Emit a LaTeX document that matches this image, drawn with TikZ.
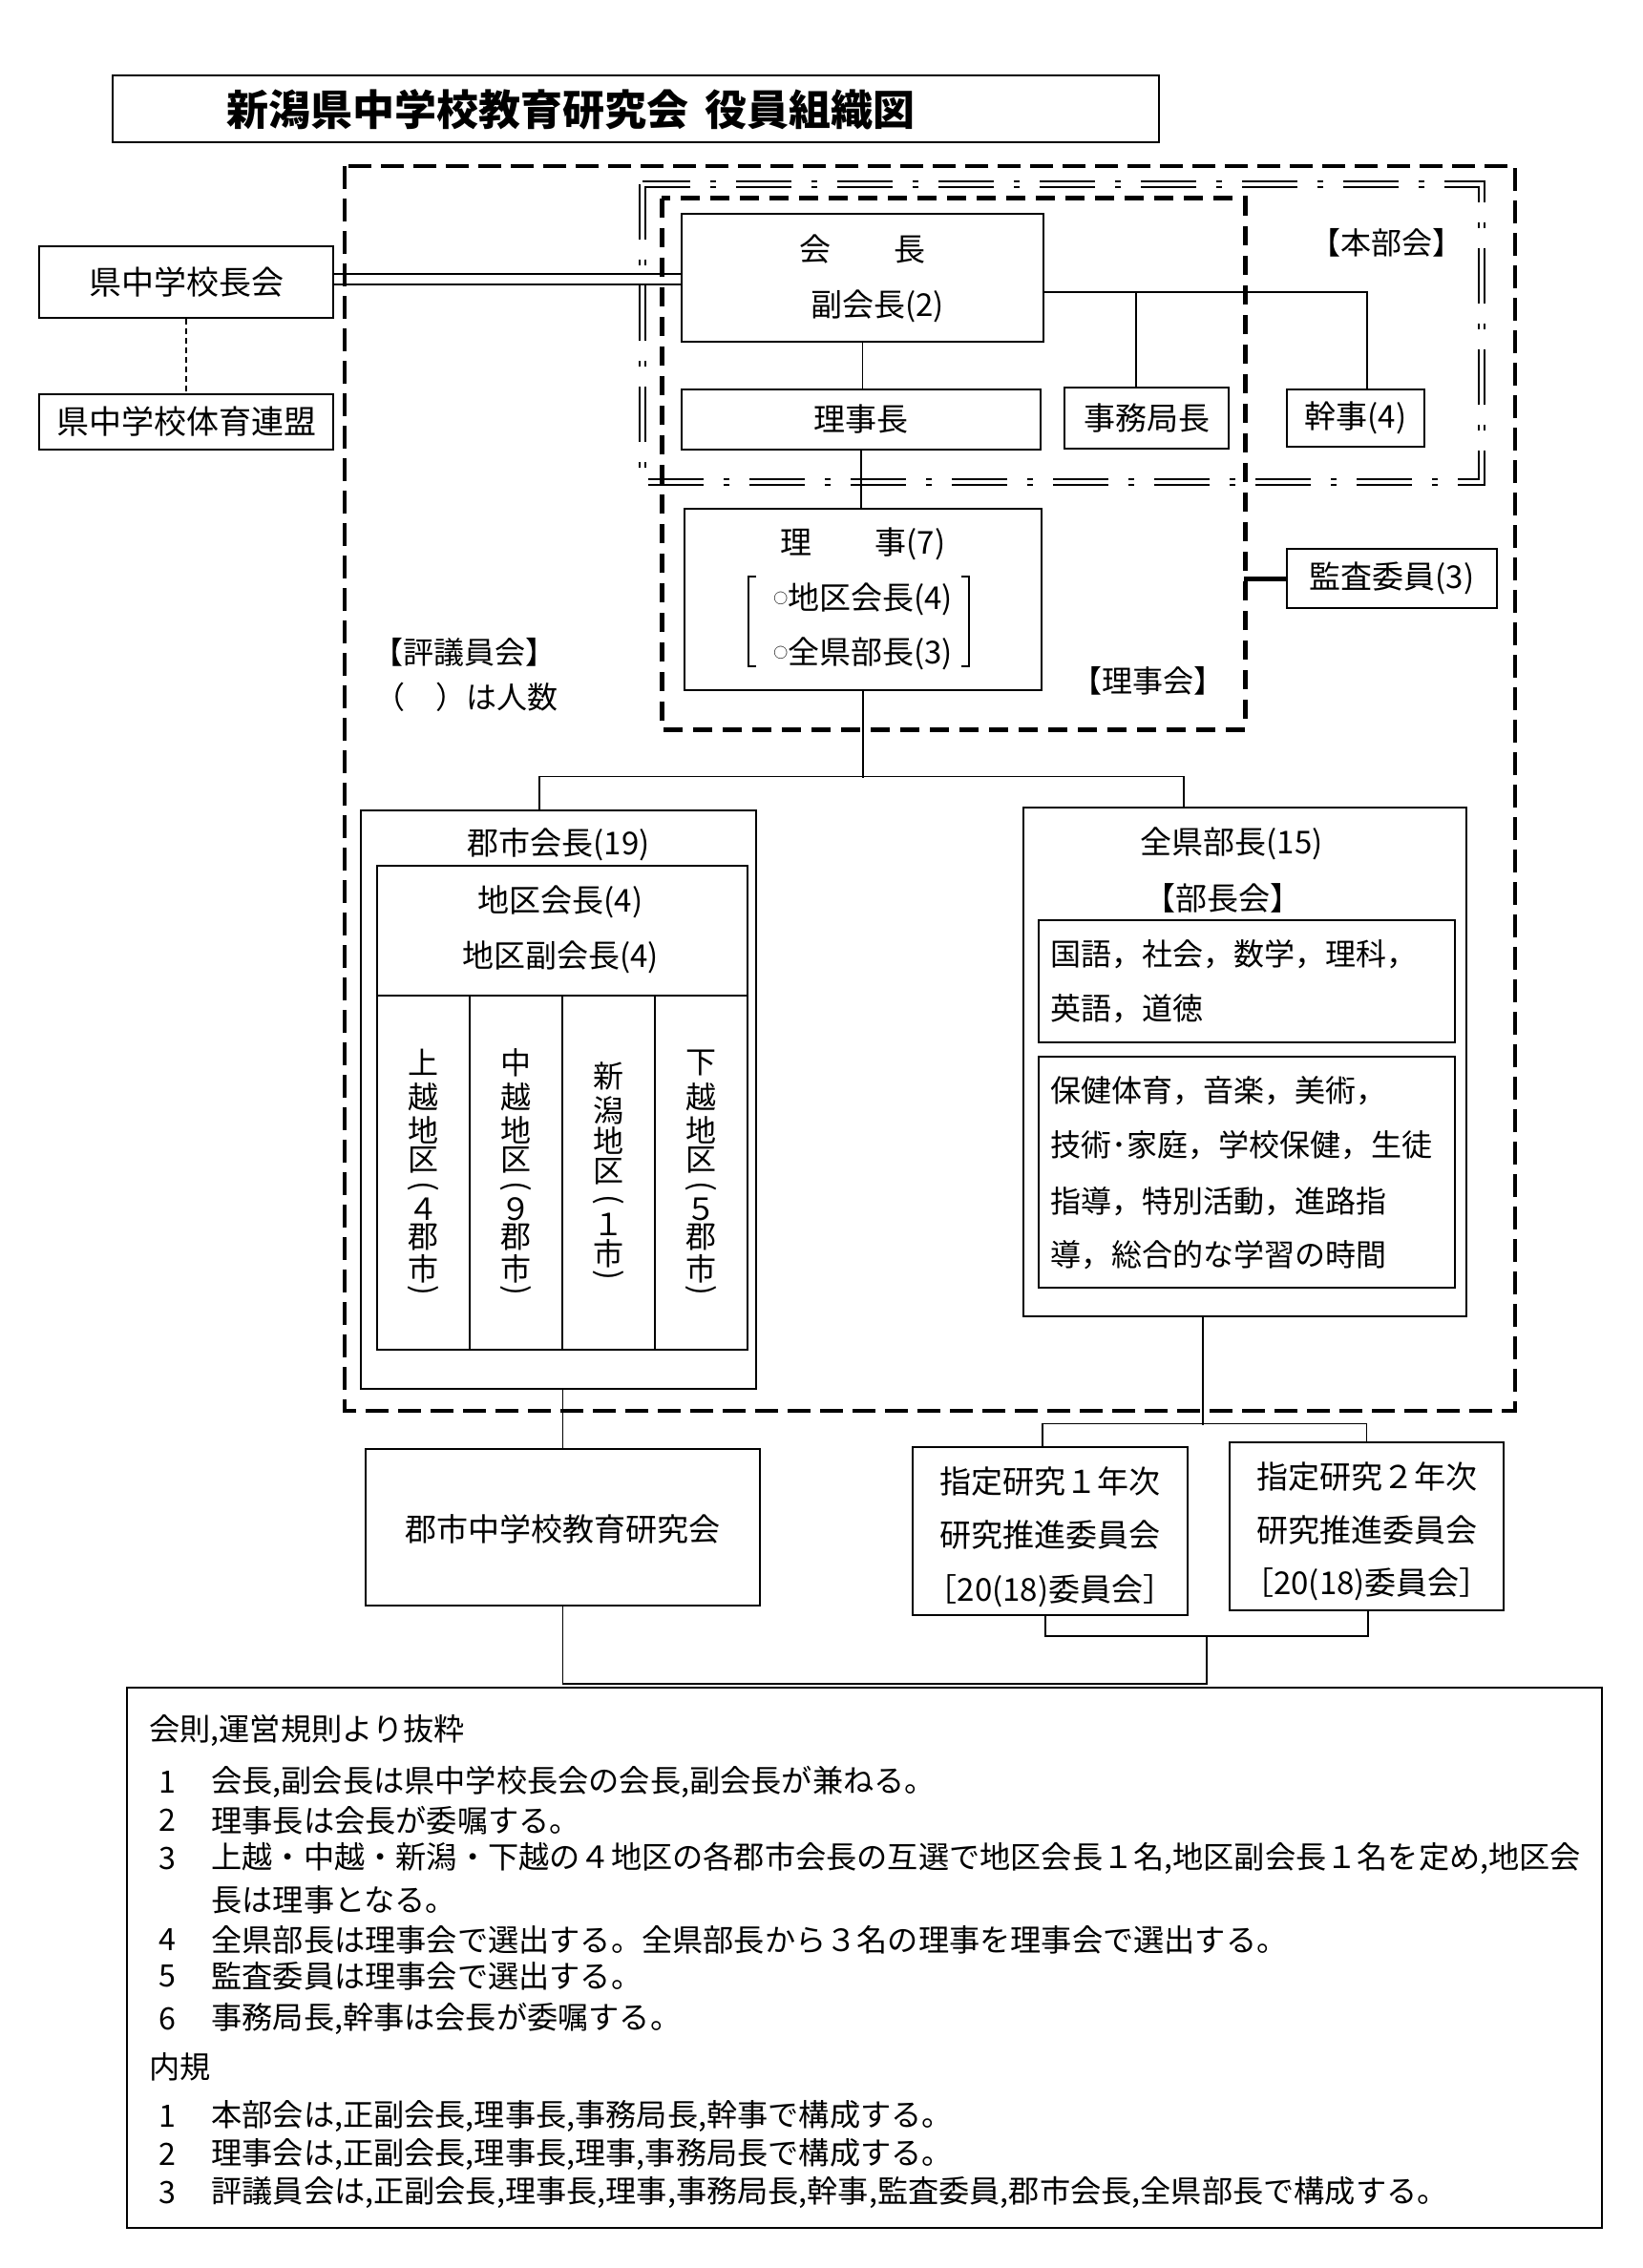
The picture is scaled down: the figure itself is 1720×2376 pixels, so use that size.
\documentclass[tikz,border=0pt]{standalone}
\usepackage{fontspec}
\setmainfont{Noto Sans CJK JP}
\usetikzlibrary{fit,calc}
\newcommand\fsTitle{\fontsize{22pt}{26pt}\selectfont\bfseries}
\newcommand\fsBig{\fontsize{17pt}{20pt}\selectfont}
\newcommand\fsMid{\fontsize{16.5pt}{20pt}\selectfont}
\newcommand\fsList{\fontsize{16pt}{20pt}\selectfont}
\newcommand\fsVert{\fontsize{16pt}{18pt}\selectfont}
\newcommand\fsNote{\fontsize{16.1pt}{19pt}\selectfont}
\newcommand\fsLbl{\fontsize{16pt}{19pt}\selectfont}
\newcommand\smallcirc{\raisebox{0.35ex}{\scalebox{0.45}{○}}}
\newcommand\vlp{\rotatebox{-90}{(}}
\newcommand\vrp{\rotatebox{-90}{)}}
\begin{document}
\begin{tikzpicture}[x=0.5pt,y=-0.5pt,
  box/.style={draw,line width=0.8pt,inner sep=0pt},
  ln/.style={line width=0.7pt},
  txt/.style={inner sep=0pt,font=\fsMid},
]
\fill[white] (0,0) rectangle (1720,2376);
\useasboundingbox (0,0) rectangle (1720,2376);

% ---------- title ----------
\node[draw,line width=1.1pt,inner sep=0pt,fit={(118,79) (1214,149)}] (title) {};
\node[txt,font=\fsTitle] at (598,115) {新潟県中学校教育研究会\hspace{0.4em}役員組織図};

% ---------- grouping frames ----------
\draw[line width=2pt,dash pattern=on 12pt off 5pt] (361,174) rectangle (1587,1478);
\draw[double,double distance=2pt,line width=1pt,
      dash pattern=on 29pt off 10.5pt on 3pt off 10.5pt] (673,193) rectangle (1552,505);
\draw[line width=2.5pt,dash pattern=on 10pt off 5.5pt] (693,208) rectangle (1304,764);

\node[txt,font=\fsLbl] at (1452,254) {【本部会】};
\node[txt,font=\fsLbl] at (1202,713) {【理事会】};
\node[txt,font=\fsLbl,anchor=west] at (390,683) {【評議員会】};
\node[txt,font=\fsLbl,anchor=west] at (392,730) {（　）は人数};

% ---------- left boxes ----------
\node[box,fit={(41,258) (349,333)}] (kencho) {};
\node[txt,font=\fsBig] at (kencho) {県中学校長会};
\node[box,fit={(41,413) (349,471)}] (taiiku) {};
\node[txt,font=\fsBig] at (taiiku) {県中学校体育連盟};
\draw[line width=0.6pt,dash pattern=on 3pt off 2pt] (kencho.south) -- (taiiku.north);

% ---------- top organisation ----------
\node[box,fit={(714,224) (1093,358)}] (kaicho) {};
\node[txt] at (903,261) {会　　長};
\node[txt] at (919,321) {副会長(2)};

\draw[ln] ($(kencho.east)+(0,-8.5)$) -- ($(kencho.east -| kaicho.west)+(0,-8.5)$);
\draw[ln] ($(kencho.east)+(0,2.5)$) -- ($(kencho.east -| kaicho.west)+(0,2.5)$);

\node[box,fit={(714,408) (1090,471)}] (richocho) {};
\node[txt] at (richocho) {理事長};
\node[box,fit={(1115,406) (1287,470)}] (jimu) {};
\node[txt] at (jimu) {事務局長};
\node[box,fit={(1348,408) (1492,468)}] (kanji) {};
\node[txt] at (kanji) {幹事(4)};

\draw[ln] (kaicho.south) -- (kaicho.south |- richocho.north);
\draw[ln] ($(kaicho.east)+(0,15)$) -| ($(kanji.north)+(12,0)$);
\draw[ln] ($(jimu.north)+(-11,0)$) -- ++(0,-100);

% ---------- 理事 ----------
\node[box,fit={(717,533) (1091,723)}] (riji) {};
\draw[ln] (richocho.south) -- (richocho.south |- riji.north);
\node[txt] at (904,570) {理　　事(7)};
\node[txt] at (904,628) {\smallcirc 地区会長(4)};
\node[txt] at (904,685) {\smallcirc 全県部長(3)};
\draw[ln] (792,604) -- (784,604) -- (784,698) -- (792,698);
\draw[ln] (1007,604) -- (1015,604) -- (1015,698) -- (1007,698);

\node[box,fit={(1348,575) (1568,637)}] (kansa) {};
\node[txt] at (kansa) {監査委員(3)};
\draw[line width=2.5pt] (kansa.west) -- ++(-44,0);

% ---------- 郡市会長 ----------
\node[box,fit={(378,849) (792,1455)}] (gunshi) {};
\node[box,fit={(395,907) (783,1414)}] (chiku) {};
\draw[ln] (395,1043) -- (783,1043);
\draw[ln] (492,1043) -- (492,1414);
\draw[ln] (589,1043) -- (589,1414);
\draw[ln] (686,1043) -- (686,1414);
\node[txt] at (585,885) {郡市会長(19)};
\node[txt] at (587,945) {地区会長(4)};
\node[txt] at (587,1003) {地区副会長(4)};

\foreach \ch/\yy in {上/1113,越/1149,地/1184,区/1215,\vlp/1243,４/1267,郡/1296,市/1329,\vrp/1352}
  \node[txt,font=\fsVert] at (443,\yy) {\ch};
\foreach \ch/\yy in {中/1113,越/1149,地/1184,区/1215,\vlp/1243,９/1267,郡/1296,市/1329,\vrp/1352}
  \node[txt,font=\fsVert] at (540,\yy) {\ch};
\foreach \ch/\yy in {新/1127,潟/1163,地/1195,区/1227,\vlp/1257,１/1283,市/1313,\vrp/1336}
  \node[txt,font=\fsVert] at (637,\yy) {\ch};
\foreach \ch/\yy in {下/1113,越/1149,地/1184,区/1215,\vlp/1243,５/1267,郡/1296,市/1329,\vrp/1352}
  \node[txt,font=\fsVert] at (734,\yy) {\ch};

% ---------- 全県部長 ----------
\node[box,fit={(1072,846) (1536,1379)}] (zenken) {};
\node[txt] at (1290,884) {全県部長(15)};
\node[txt] at (1281,941) {【部長会】};
\node[box,fit={(1088,964) (1524,1092)}] (bukai1) {};
\node[box,fit={(1088,1107) (1524,1349)}] (bukai2) {};
\node[txt,font=\fsList,anchor=west] at (1100,1000) {国語，社会，数学，理科，};
\node[txt,font=\fsList,anchor=west] at (1100,1057) {英語，道徳};
\node[txt,font=\fsList,anchor=west] at (1100,1143) {保健体育，音楽，美術，};
\node[txt,font=\fsList,anchor=west] at (1100,1200) {技術･家庭，学校保健，生徒};
\node[txt,font=\fsList,anchor=west] at (1100,1259) {指導，特別活動，進路指};
\node[txt,font=\fsList,anchor=west] at (1100,1315) {導，総合的な学習の時間};

% branch from 理事
\draw[ln] (riji.south) -- ++(0,91);
\draw[ln] ($(gunshi.north)+(-20,0)$) |- ($(zenken.north)+(-64,-32)$) -- ($(zenken.north)+(-64,0)$);

% ---------- lower boxes ----------
\node[box,fit={(383,1518) (796,1682)}] (gkenkyu) {};
\node[txt,font=\fsMid] at (589.5,1602) {郡市中学校教育研究会};
\node[box,fit={(956,1516) (1244,1692)}] (shitei1) {};
\node[txt] at (1100,1552) {指定研究１年次};
\node[txt] at (1100,1608) {研究推進委員会};
\node[txt] at (1100,1667) {［20(18)委員会］};
\node[box,fit={(1288,1511) (1575,1687)}] (shitei2) {};
\node[txt] at (1431.5,1547) {指定研究２年次};
\node[txt] at (1431.5,1603) {研究推進委員会};
\node[txt] at (1431.5,1660) {［20(18)委員会］};

\draw[ln] (gkenkyu.north) -- (gkenkyu.north |- gunshi.south);
\draw[ln] ($(zenken.south)+(-44,0)$) -- ++(0,113);
\draw[ln] ($(shitei1.north)+(-8,0)$) -- ++(0,-24) -| (shitei2.north);
\draw[ln] ($(shitei1.south)+(-5,0)$) |- ($(shitei2.south)+(1.5,26)$) -- ($(shitei2.south)+(1.5,0)$);
\draw[ln] ($(shitei2.south)+(-167.5,26)$) -- ++(0,50) -| (gkenkyu.south);

% ---------- notes ----------
\node[draw,line width=1pt,inner sep=0pt,fit={(133,1768) (1678,2334)}] (notes) {};
\node[txt,font=\fsNote,anchor=west] at (156,1813) {会則,運営規則より抜粋};
\foreach \n/\yy in {1/1867,2/1907,3/1947,4/2032,5/2070,6/2115}
  \node[txt,font=\fsNote] at (175,\yy) {\n};
\node[txt,font=\fsNote,anchor=west] at (221,1867) {会長,副会長は県中学校長会の会長,副会長が兼ねる。};
\node[txt,font=\fsNote,anchor=west] at (221,1907) {理事長は会長が委嘱する。};
\node[txt,font=\fsNote,anchor=west] at (221,1947) {上越・中越・新潟・下越の４地区の各郡市会長の互選で地区会長１名,地区副会長１名を定め,地区会};
\node[txt,font=\fsNote,anchor=west] at (221,1990) {長は理事となる。};
\node[txt,font=\fsNote,anchor=west] at (221,2032) {全県部長は理事会で選出する。全県部長から３名の理事を理事会で選出する。};
\node[txt,font=\fsNote,anchor=west] at (221,2070) {監査委員は理事会で選出する。};
\node[txt,font=\fsNote,anchor=west] at (221,2115) {事務局長,幹事は会長が委嘱する。};
\node[txt,font=\fsNote,anchor=west] at (156,2165) {内規};
\foreach \n/\yy in {1/2217,2/2257,3/2297}
  \node[txt,font=\fsNote] at (175,\yy) {\n};
\node[txt,font=\fsNote,anchor=west] at (221,2217) {本部会は,正副会長,理事長,事務局長,幹事で構成する。};
\node[txt,font=\fsNote,anchor=west] at (221,2257) {理事会は,正副会長,理事長,理事,事務局長で構成する。};
\node[txt,font=\fsNote,anchor=west] at (221,2297) {評議員会は,正副会長,理事長,理事,事務局長,幹事,監査委員,郡市会長,全県部長で構成する。};
\end{tikzpicture}
\end{document}
